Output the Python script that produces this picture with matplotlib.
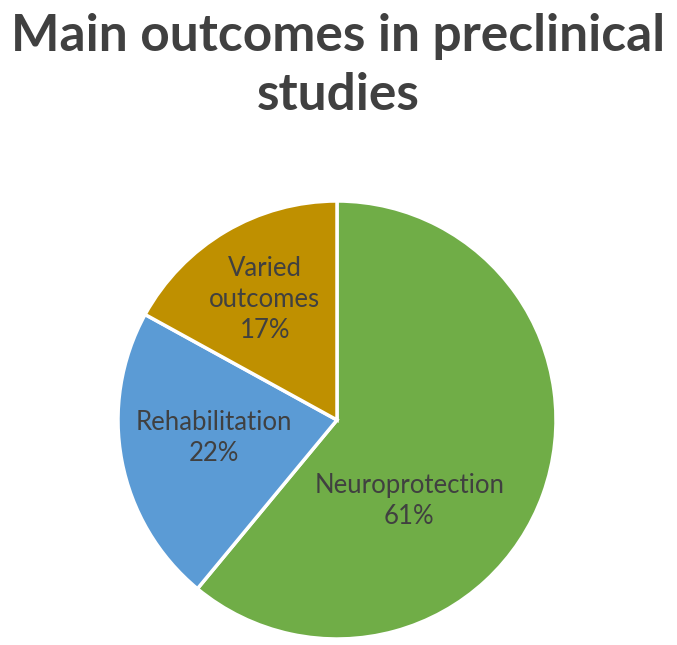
import matplotlib
matplotlib.use("Agg")
from matplotlib import pyplot as plt

categories = ["Neuroprotection", "Rehabilitation", "Varied\noutcomes"]
shares = [61, 22, 17]
colors = ["#70AD47", "#5B9BD5", "#BF9000"]
# where each label sits inside its slice (pie radius = 1)
label_pos = [(0.33, -0.37), (-0.56, -0.08), (-0.33, 0.55)]

fig = plt.figure(figsize=(6.77, 6.45), dpi=100)
ax = fig.add_axes([(337 - 219) / 677, (645 - 420 - 219) / 645, 438 / 677, 438 / 645])

wedges, _ = ax.pie(shares, colors=colors, startangle=90, counterclock=False,
                   radius=1, wedgeprops=dict(edgecolor="white", linewidth=2.5))
ax.set_xlim(-1, 1)
ax.set_ylim(-1, 1)
ax.set_aspect("equal")
ax.axis("off")

for name, val, (x, y) in zip(categories, shares, label_pos):
    ax.text(x, y, f"{name}\n{val}%", ha="center", va="center", fontsize=18.5,
            family="Lato", color="#404040", linespacing=1.3)

fig.text(0.5, 1 - 13 / 645, "Main outcomes in preclinical\nstudies", ha="center", va="top",
         fontsize=37, fontweight="bold", family="Lato", color="#404040", linespacing=1.32)

fig.savefig("out.png", dpi=100)
